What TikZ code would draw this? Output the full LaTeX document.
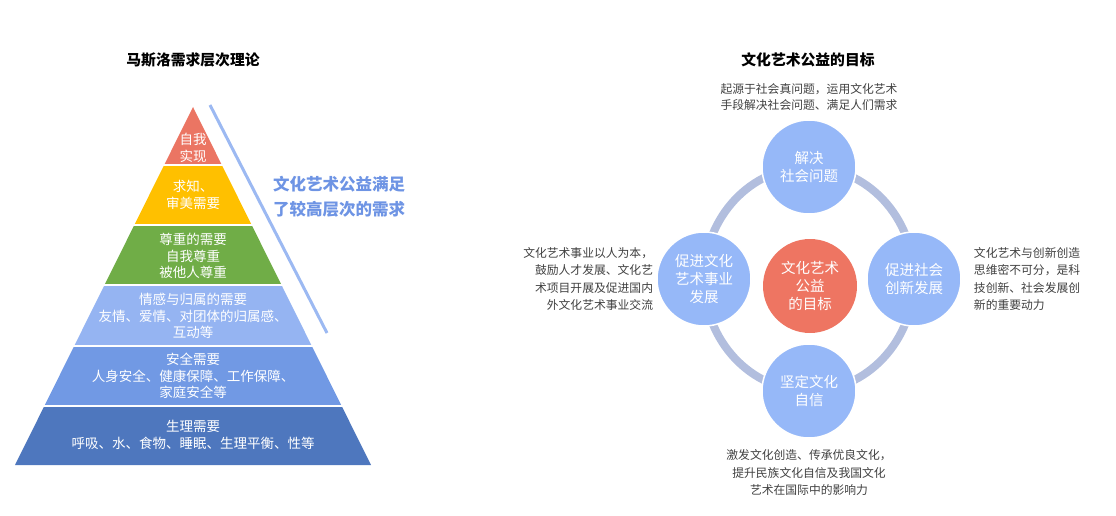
\documentclass[tikz,border=0pt]{standalone}
\usepackage{fontspec}
\setmainfont{Noto Sans CJK SC}
\usepackage{xcolor}
\usetikzlibrary{positioning}

\definecolor{selfred}{RGB}{235,117,99}
\definecolor{knowyellow}{RGB}{255,192,0}
\definecolor{respectgreen}{RGB}{112,173,71}
\definecolor{lovesblue}{RGB}{149,180,242}
\definecolor{safeblue}{RGB}{113,153,228}
\definecolor{bodyblue}{RGB}{78,119,190}
\definecolor{sideblue}{RGB}{110,148,228}
\definecolor{sideline}{RGB}{156,185,242}
\definecolor{ringgray}{RGB}{178,190,222}
\definecolor{goalblue}{RGB}{150,184,248}
\definecolor{goalred}{RGB}{238,117,98}
\definecolor{notegray}{RGB}{64,64,64}

\begin{document}
\begin{tikzpicture}[x=1pt,y=1pt,inner sep=3pt,
  layer/.style={text=white,align=center,font=\fontsize{13.5}{16.5}\selectfont},
  goal/.style={circle,fill=goalblue,draw=white,line width=1.5pt,minimum size=94pt,inner sep=0pt,
    text=white,align=center,font=\fontsize{14.5}{18}\selectfont},
  note/.style={text=notegray,font=\fontsize{11.8}{17.5}\selectfont},
  title/.style={font=\fontsize{14.8}{18}\selectfont\bfseries},
  ring/.style={draw=ringgray,line width=8pt}]
\useasboundingbox (0,0) rectangle (1116,515);

% pyramid
\begin{scope}
\clip (193,408) -- (371,50) -- (15,50) -- cycle;
\foreach \ya/\yb/\c in {351/410/selfred, 291/349/knowyellow, 231/289/respectgreen,
  170/229/lovesblue, 110/168/safeblue, 48/108/bodyblue}
  \fill[\c] (0,\ya) rectangle (400,\yb);
\end{scope}

\node[title] (T1) at (193,455) {马斯洛需求层次理论};
\node[layer] (P1) at (193,367) {自我\\实现};
\node[layer] (P2) at (193,320) {求知、\\审美需要};
\node[layer] (P3) at (193,259) {尊重的需要\\自我尊重\\被他人尊重};
\node[layer] (P4) at (193,199) {情感与归属的需要\\友情、爱情、对团体的归属感、\\互动等};
\node[layer] (P5) at (193,139) {安全需要\\人身安全、健康保障、工作保障、\\家庭安全等};
\node[layer] (P6) at (193,80) {生理需要\\呼吸、水、食物、睡眠、生理平衡、性等};

\draw[sideline,line width=3pt] (210,410) -- (327,182);
\node[text=sideblue,align=left,font=\fontsize{16.5}{25}\selectfont\bfseries] (S) at (339,318)
  {文化艺术公益满足\\了较高层次的需求};

% goals
\node[title] (T2) at (808,455) {文化艺术公益的目标};
\coordinate (O) at (809,236);
\draw[ring] (O) ellipse [x radius=105,y radius=112];
\node[goal,fill=goalred,draw=none] (M) at (810,229) {文化艺术\\公益\\的目标};
\node[goal,above of=O,node distance=112pt] (T) {解决\\社会问题};
\node[goal,below of=O,node distance=112pt] (B) {坚定文化\\自信};
\node[goal,left of=O,node distance=105pt] (L) {促进文化\\艺术事业\\发展};
\node[goal,right of=O,node distance=105pt] (R) {促进社会\\创新发展};

\node[note,align=center,above=6pt of T,font=\fontsize{11.8}{15.5}\selectfont] (NT)
  {起源于社会真问题，运用文化艺术\\手段解决社会问题、满足人们需求};
\node[note,align=right,left=0pt of L] (NL)
  {文化艺术事业以人为本，\\鼓励人才发展、文化艺\\术项目开展及促进国内\\外文化艺术事业交流};
\node[note,align=left,right=9pt of R] (NR)
  {文化艺术与创新创造\\思维密不可分，是科\\技创新、社会发展创\\新的重要动力};
\node[note,align=center,below=8pt of B] (NB)
  {激发文化创造、传承优良文化，\\提升民族文化自信及我国文化\\艺术在国际中的影响力};

\end{tikzpicture}
\end{document}
